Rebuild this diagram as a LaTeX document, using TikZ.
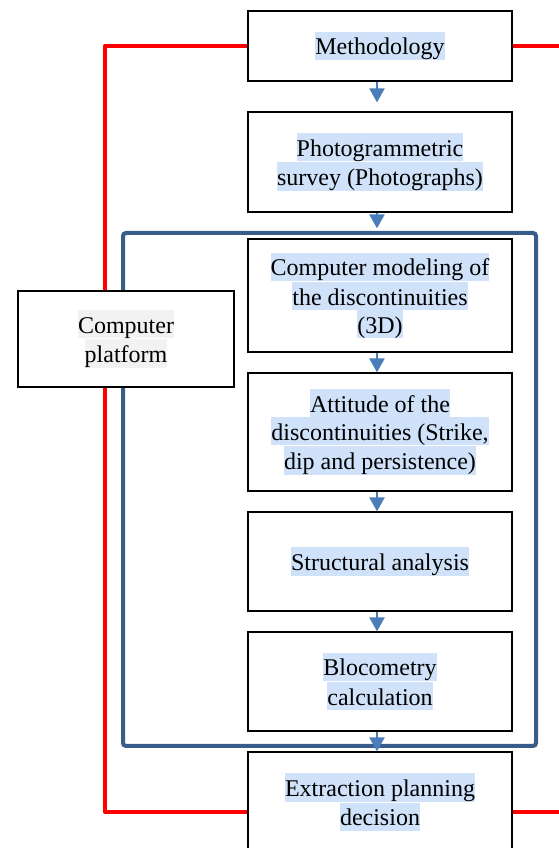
\documentclass[tikz,border=0pt]{standalone}
\usepackage{fontspec}
\setmainfont{Liberation Serif}
\usepackage{xcolor}
\usetikzlibrary{positioning,arrows.meta,backgrounds,calc}
\definecolor{flowblue}{RGB}{74,126,187}
\definecolor{frameblue}{RGB}{56,93,138}
\definecolor{selblue}{RGB}{207,226,249}
\definecolor{selgray}{RGB}{242,242,242}
\newcommand{\hl}[1]{{\setlength{\fboxsep}{0pt}\colorbox{selblue}{\rule[-5pt]{0pt}{28pt}#1}}}
\newcommand{\hg}[1]{{\setlength{\fboxsep}{0pt}\colorbox{selgray}{\rule[-5pt]{0pt}{28pt}#1}}}

\begin{document}
\begin{tikzpicture}[x=1pt,y=1pt,node distance=19.8pt,
    box/.style={draw=black,line width=1.2pt,fill=white,align=center,
      minimum width=264pt,font=\fontsize{24}{28}\selectfont},
    flow/.style={draw=flowblue,line width=2.2pt,-{Triangle[width=15pt,length=14pt]}},
    feedback/.style={draw=red,line width=4pt,line join=round},
    frame/.style={draw=frameblue,line width=4pt,rounded corners=3pt}]
  \useasboundingbox (0,0) rectangle (558,848);

  \node[box, minimum height=70pt] (method) at (380,802) {\hl{Methodology}};
  \node[box, minimum height=100pt] (photo) [below=29.8pt of method]
    {\hl{Photogrammetric}\\\hl{survey (Photographs)}};
  \node[box, minimum height=113pt] (model) [below=25.8pt of photo]
    {\hl{Computer modeling of}\\\hl{the discontinuities}\\\hl{(3D)}};
  \node[box, minimum height=118pt] (attitude) [below=of model]
    {\hl{Attitude of the}\\\hl{discontinuities (Strike,}\\\hl{dip and persistence)}};
  \node[box, minimum height=99pt] (struct) [below=of attitude] {\hl{Structural analysis}};
  \node[box, minimum height=99pt] (bloco) [below=of struct]
    {\hl{Blocometry}\\\hl{calculation}};
  \node[box, minimum height=100pt] (extract) [below=of bloco]
    {\hl{Extraction planning}\\\hl{decision}};
  \node[box, minimum width=216pt, minimum height=96pt] (platform) at (126,509)
    {\hg{Computer}\\\hg{platform}};

  % loop back to the platform
  \coordinate (redx) at (105,0);
  \coordinate (extin) at ([yshift=-10pt]extract.west);
  \coordinate (extout) at ([yshift=-10pt]extract.east);
  \begin{pgfonlayer}{background}
    \draw[feedback] (method.west) -| (redx |- extin) -- (extin);
    \draw[feedback] (method.east) -- ++(60,0);
    \draw[feedback] (extout) -- ++(60,0);
    \draw[frame] (123,615) rectangle (536,102);
  \end{pgfonlayer}

  \draw[flow, shorten >=9pt] ([xshift=-3pt]method.south) -- ([xshift=-3pt]photo.north);
  \draw[flow, shorten >=10pt] ([xshift=-3pt]photo.south) -- ([xshift=-3pt]model.north);
  \foreach \a/\b in {model/attitude,attitude/struct,struct/bloco,bloco/extract}
    \draw[flow] ([xshift=-3pt]\a.south) -- ([xshift=-3pt]\b.north);
\end{tikzpicture}
\end{document}
